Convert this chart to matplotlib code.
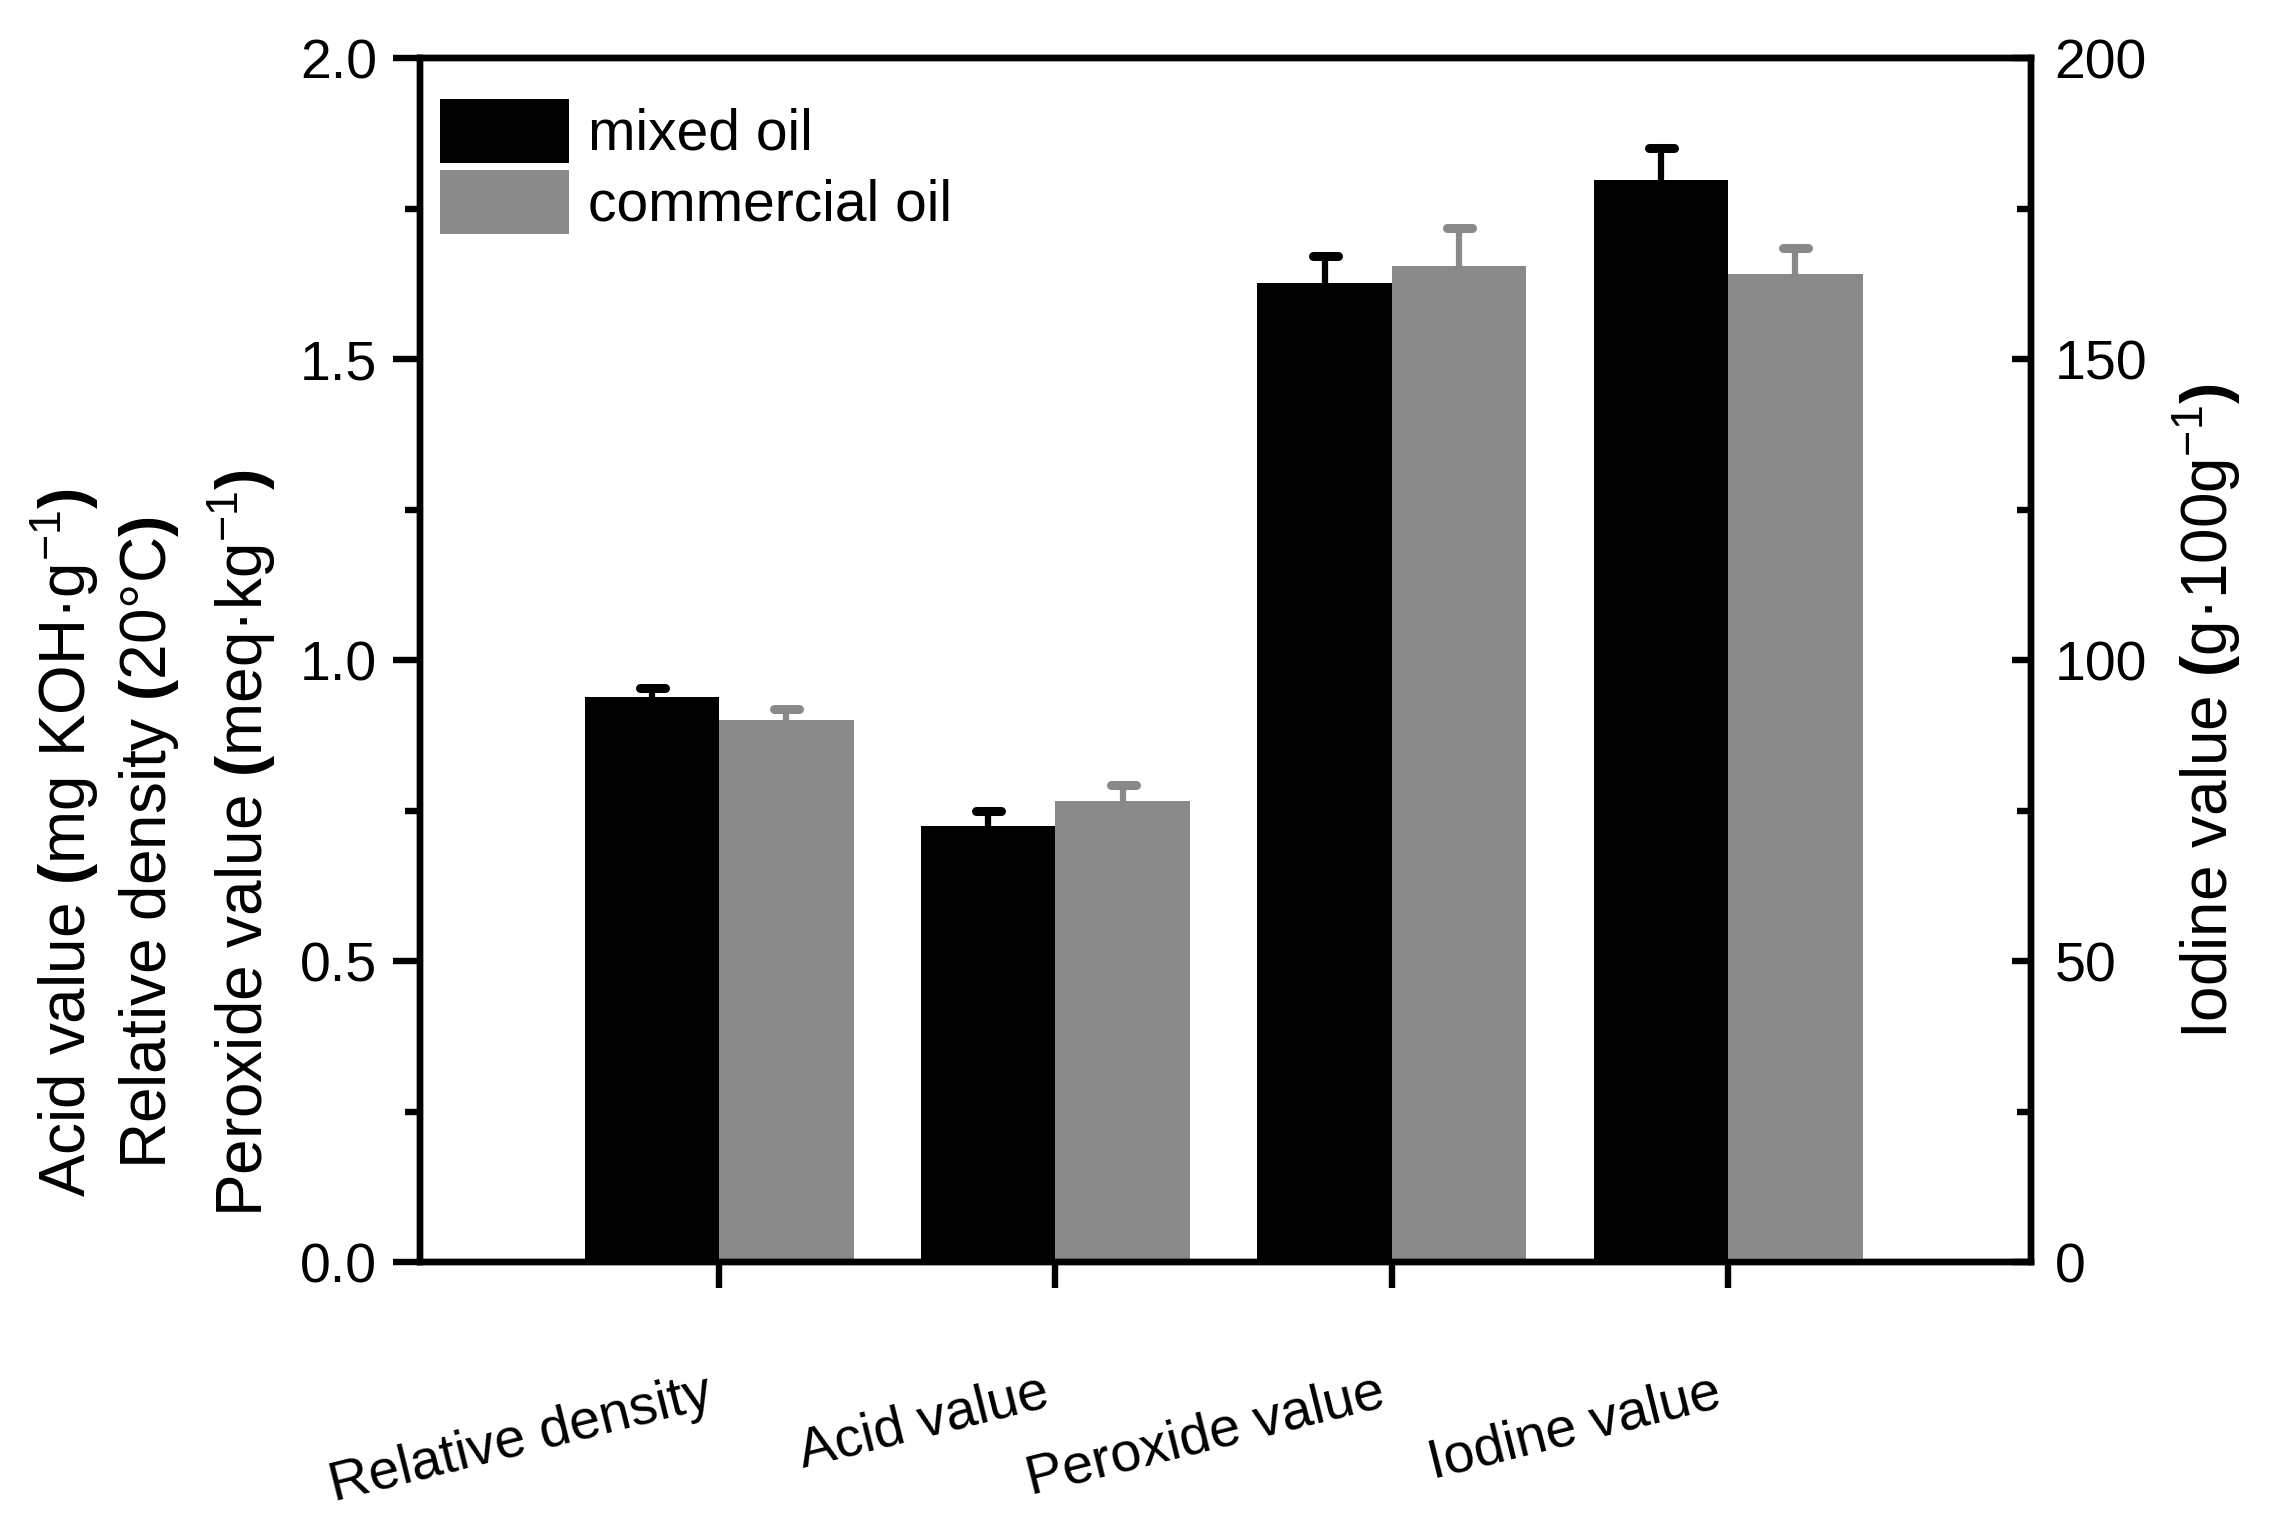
import numpy as np
import matplotlib.pyplot as plt
import matplotlib.transforms as mtransforms
from matplotlib.markers import MarkerStyle
from matplotlib.ticker import MultipleLocator

plt.rcParams['font.family'] = ['Liberation Sans', 'DejaVu Sans']
plt.rcParams['mathtext.fontset'] = 'custom'
plt.rcParams['mathtext.rm'] = 'Liberation Sans'
plt.rcParams['mathtext.it'] = 'Liberation Sans:italic'
plt.rcParams['mathtext.bf'] = 'Liberation Sans:bold'
plt.rcParams['mathtext.default'] = 'regular'

categories = ["Relative density", "Acid value", "Peroxide value", "Iodine value"]
series_names = ["mixed oil", "commercial oil"]

# left axis: relative density, acid value, peroxide value
mixed_left = [0.938, 0.725, 1.626]
mixed_left_err = [0.016, 0.024, 0.046]
commercial_left = [0.901, 0.766, 1.654]
commercial_left_err = [0.018, 0.027, 0.063]

# right axis: iodine value
mixed_iodine = [179.8]
mixed_iodine_err = [5.3]
commercial_iodine = [164.1]
commercial_iodine_err = [4.3]

black = "black"
grey = "#898989"
lw = 4.6
bw = 0.4

fig = plt.figure(figsize=(22.72, 15.32), dpi=100)
ax = fig.add_axes([0.1849, 0.1762, 0.709, 0.7859])
ax2 = ax.twinx()

x_left = np.arange(1, 4)
x_right = np.array([4])


def draw_errors(axis, xs, vals, errs, color):
    vals = np.asarray(vals)
    eb = axis.errorbar(xs, vals, yerr=[np.zeros(len(errs)), errs], fmt="none",
                       ecolor=color, elinewidth=4.5, capsize=9, capthick=6.5,
                       zorder=3)
    # only the upper cap is shown
    for cl in eb[1]:
        if np.allclose(cl.get_ydata(), vals):
            cl.set_visible(False)
        else:
            cl.set_marker(MarkerStyle("_", capstyle="round"))


b1 = ax.bar(x_left - bw, mixed_left, bw, align="edge", color=black, label=series_names[0], zorder=2)
b2 = ax.bar(x_left, commercial_left, bw, align="edge", color=grey, label=series_names[1], zorder=2)
draw_errors(ax, x_left - bw / 2, mixed_left, mixed_left_err, black)
draw_errors(ax, x_left + bw / 2, commercial_left, commercial_left_err, grey)

ax2.bar(x_right - bw, mixed_iodine, bw, align="edge", color=black, zorder=2)
ax2.bar(x_right, commercial_iodine, bw, align="edge", color=grey, zorder=2)
draw_errors(ax2, x_right - bw / 2, mixed_iodine, mixed_iodine_err, black)
draw_errors(ax2, x_right + bw / 2, commercial_iodine, commercial_iodine_err, grey)

ax.set_xlim(0.111, 4.90)
ax.set_ylim(0, 2.0)
ax2.set_ylim(0, 200)

ax.yaxis.set_major_locator(MultipleLocator(0.5))
ax.yaxis.set_minor_locator(MultipleLocator(0.25))
ax2.yaxis.set_major_locator(MultipleLocator(50))
ax2.yaxis.set_minor_locator(MultipleLocator(25))

for a in (ax, ax2):
    for s in a.spines.values():
        s.set_linewidth(lw)

ax.tick_params(axis="y", which="major", direction="out", length=19.5, width=lw, pad=11.5, labelsize=40)
ax.tick_params(axis="y", which="minor", direction="out", length=10.8, width=lw)
ax.tick_params(axis="x", direction="out", length=18.7, width=lw, pad=57, labelsize=40)
ax2.tick_params(axis="y", which="major", direction="in", length=14, width=lw, pad=17, labelsize=40)
ax2.tick_params(axis="y", which="minor", direction="in", length=10, width=lw)

ax.set_xticks([1, 2, 3, 4])
ax.set_xticklabels(categories, rotation=14, ha="right", va="top", rotation_mode="anchor")
# nudge the slanted labels a little left, as in the original
shift = mtransforms.ScaledTranslation(-14 / 100, 0, fig.dpi_scale_trans)
for lab in ax.get_xticklabels():
    lab.set_transform(lab.get_transform() + shift)

# three-line left label
lp, rp = r"$\mathbf{(}$", r"$\mathbf{)}$"
fig.text(65 / 2272, 0.45, "Acid value " + lp + "mg KOH·g$^{-1}$" + rp,
         rotation=90, ha="center", va="center", fontsize=46)
fig.text(149 / 2272, 0.45, "Relative density " + lp + "20°C" + rp,
         rotation=90, ha="center", va="center", fontsize=46)
fig.text(242 / 2272, 0.45, "Peroxide value " + lp + "meq·kg$^{-1}$" + rp,
         rotation=90, ha="center", va="center", fontsize=46)
fig.text(2207 / 2272, 0.536, "Iodine value " + lp + "g·100g$^{-1}$" + rp,
         rotation=90, ha="center", va="center", fontsize=46)

ax.legend(handles=[b1, b2], loc="upper left", bbox_to_anchor=(0.0124, 0.966),
          frameon=False, fontsize=41, borderpad=0, borderaxespad=0,
          handlelength=2.26, handleheight=1.35, labelspacing=0.12, handletextpad=0.33)

plt.savefig("out.png", dpi=100)
